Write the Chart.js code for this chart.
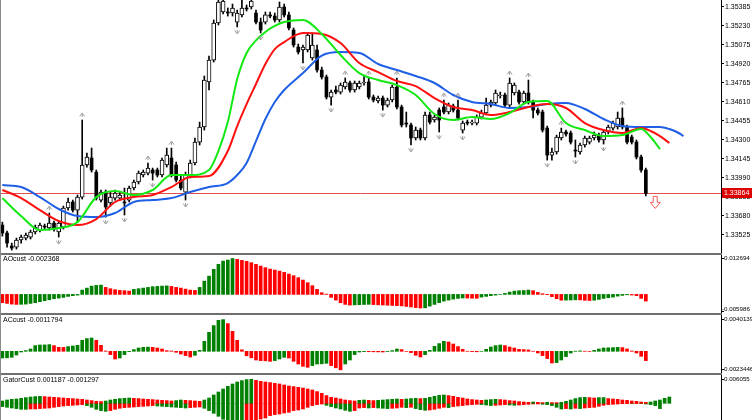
<!DOCTYPE html>
<html>
<head>
<meta charset="utf-8">
<script src="https://cdn.jsdelivr.net/npm/chart.js@4/dist/chart.umd.min.js"></script>
<style>
  html, body { margin: 0; padding: 0; background: #fff; }
  #wrap { position: relative; width: 752px; height: 420px; overflow: hidden; }
  #wrap canvas { position: absolute; left: 0; }
  .sep { position: absolute; left: 0; width: 722px; height: 2px; background: #6f6f6f; }
  .edge { position: absolute; left: 0; top: 0; width: 1px; height: 420px; background: #8a8a8a; }
</style>
</head>
<body>
<div id="wrap">
  <canvas id="main" width="752" height="253" style="top:0"></canvas>
  <div class="sep" style="top:253px"></div>
  <canvas id="ao" width="752" height="58" style="top:255px"></canvas>
  <div class="sep" style="top:313px"></div>
  <canvas id="ac" width="752" height="58" style="top:315px"></canvas>
  <div class="sep" style="top:373px"></div>
  <canvas id="gator" width="752" height="45" style="top:375px"></canvas>
  <div class="edge"></div>
</div>
<script>
// --- candles (bar index 0..137) ---
const opens = [1.33606,1.33541,1.33435,1.33426,1.33484,1.33500,1.33508,1.33549,1.33565,1.33598,
  1.33582,1.33622,1.33549,1.33590,1.33745,1.33794,1.33728,1.33834,1.34096,1.34153,
  1.34038,1.33810,1.33875,1.33786,1.33826,1.33826,1.33794,1.33810,1.33908,1.33957,
  1.34014,1.34030,1.34055,1.34055,1.34014,1.34096,1.34153,1.34096,1.33973,1.33875,
  1.34014,1.34112,1.34283,1.34406,1.34773,1.34952,1.35254,1.35344,1.35344,1.35336,
  1.35262,1.35320,1.35377,1.35385,1.35336,1.35262,1.35262,1.35320,1.35311,1.35279,
  1.35385,1.35320,1.35197,1.35058,1.35034,1.35034,1.34969,1.35034,1.34871,1.34814,
  1.34650,1.34708,1.34691,1.34732,1.34765,1.34708,1.34732,1.34765,1.34773,1.34650,
  1.34618,1.34642,1.34585,1.34626,1.34732,1.34569,1.34438,1.34422,1.34316,1.34381,
  1.34316,1.34504,1.34463,1.34544,1.34569,1.34528,1.34577,1.34544,1.34381,1.34446,
  1.34438,1.34438,1.34487,1.34520,1.34585,1.34602,1.34659,1.34667,1.34585,1.34683,
  1.34691,1.34610,1.34683,1.34610,1.34544,1.34528,1.34397,1.34177,1.34202,1.34316,
  1.34365,1.34357,1.34218,1.34202,1.34259,1.34283,1.34316,1.34340,1.34300,1.34365,
  1.34397,1.34406,1.34479,1.34406,1.34324,1.34283,1.34161,1.34055];
const highs = [1.33630,1.33557,1.33459,1.33500,1.33524,1.33541,1.33565,1.33606,1.33622,1.33614,
  1.33704,1.33639,1.33639,1.33761,1.33826,1.33810,1.33851,1.34463,1.34193,1.34234,
  1.34055,1.33892,1.33892,1.33875,1.33892,1.33875,1.33908,1.33924,1.33973,1.34047,
  1.34055,1.34112,1.34071,1.34071,1.34153,1.34234,1.34234,1.34120,1.34006,1.34038,
  1.34136,1.34316,1.34446,1.34822,1.34985,1.35279,1.35466,1.35475,1.35377,1.35409,
  1.35360,1.35442,1.35401,1.35466,1.35360,1.35295,1.35344,1.35344,1.35336,1.35426,
  1.35409,1.35344,1.35214,1.35083,1.35075,1.35173,1.35173,1.35075,1.34895,1.34830,
  1.34708,1.34740,1.34765,1.34806,1.34781,1.34781,1.34781,1.34822,1.34806,1.34667,
  1.34659,1.34659,1.34642,1.34748,1.34806,1.34585,1.34528,1.34438,1.34406,1.34397,
  1.34528,1.34528,1.34504,1.34561,1.34626,1.34602,1.34593,1.34626,1.34455,1.34463,
  1.34463,1.34504,1.34544,1.34642,1.34626,1.34708,1.34691,1.34683,1.34806,1.34765,
  1.34708,1.34699,1.34789,1.34626,1.34561,1.34544,1.34414,1.34234,1.34340,1.34397,
  1.34381,1.34373,1.34300,1.34275,1.34332,1.34332,1.34365,1.34357,1.34381,1.34422,
  1.34455,1.34528,1.34561,1.34422,1.34340,1.34300,1.34177,1.34071];
const lows = [1.33516,1.33426,1.33402,1.33410,1.33459,1.33484,1.33492,1.33533,1.33549,1.33573,
  1.33565,1.33557,1.33508,1.33573,1.33728,1.33712,1.33630,1.33818,1.34079,1.34038,
  1.33810,1.33794,1.33671,1.33761,1.33810,1.33810,1.33688,1.33794,1.33892,1.33941,
  1.33998,1.34014,1.33973,1.33998,1.33998,1.34079,1.33998,1.33957,1.33892,1.33810,
  1.33990,1.34096,1.34259,1.34381,1.34708,1.34936,1.35238,1.35328,1.35311,1.35311,
  1.35222,1.35303,1.35352,1.35369,1.35246,1.35173,1.35246,1.35295,1.35262,1.35262,
  1.35303,1.35197,1.35058,1.35001,1.34928,1.35018,1.34952,1.34854,1.34797,1.34634,
  1.34585,1.34675,1.34675,1.34716,1.34691,1.34691,1.34716,1.34748,1.34634,1.34610,
  1.34602,1.34544,1.34569,1.34610,1.34553,1.34406,1.34406,1.34259,1.34300,1.34300,
  1.34300,1.34430,1.34446,1.34365,1.34512,1.34512,1.34528,1.34463,1.34357,1.34422,
  1.34422,1.34422,1.34471,1.34504,1.34569,1.34585,1.34642,1.34569,1.34569,1.34667,
  1.34593,1.34593,1.34593,1.34479,1.34504,1.34365,1.34136,1.34136,1.34185,1.34300,
  1.34332,1.34267,1.34161,1.34185,1.34242,1.34267,1.34300,1.34283,1.34267,1.34349,
  1.34381,1.34389,1.34389,1.34267,1.34267,1.34145,1.34038,1.33843];
const closes = [1.33541,1.33459,1.33418,1.33484,1.33508,1.33524,1.33549,1.33590,1.33606,1.33590,
  1.33622,1.33573,1.33622,1.33745,1.33794,1.33728,1.33834,1.34096,1.34161,1.34055,
  1.33826,1.33875,1.33753,1.33834,1.33867,1.33851,1.33786,1.33908,1.33957,1.34030,
  1.34038,1.34071,1.34030,1.34014,1.34136,1.34177,1.34014,1.33973,1.33908,1.34014,
  1.34112,1.34283,1.34406,1.34789,1.34952,1.35254,1.35426,1.35434,1.35336,1.35377,
  1.35336,1.35377,1.35369,1.35434,1.35262,1.35197,1.35320,1.35311,1.35279,1.35385,
  1.35320,1.35214,1.35075,1.35018,1.35058,1.35156,1.35075,1.34871,1.34814,1.34650,
  1.34691,1.34691,1.34748,1.34773,1.34708,1.34765,1.34765,1.34773,1.34650,1.34626,
  1.34642,1.34585,1.34626,1.34732,1.34569,1.34422,1.34430,1.34316,1.34381,1.34316,
  1.34504,1.34446,1.34487,1.34463,1.34528,1.34585,1.34544,1.34479,1.34438,1.34438,
  1.34446,1.34487,1.34520,1.34585,1.34610,1.34683,1.34667,1.34585,1.34765,1.34748,
  1.34610,1.34683,1.34610,1.34544,1.34520,1.34381,1.34177,1.34202,1.34324,1.34365,
  1.34349,1.34283,1.34210,1.34259,1.34316,1.34316,1.34340,1.34300,1.34365,1.34406,
  1.34438,1.34479,1.34406,1.34283,1.34283,1.34161,1.34055,1.33864];

// --- alligator lines, read every few bars ---
const jawIdx = [0,4,8,12,16,20,24,28,32,36,40,44,48,50,52,54,56,58,60,64,68,72,76,80,84,88,92,96,100,104,108,112,116,120,124,128,132,136,140,142,144,145];
const jawVal = [1.33932,1.33916,1.33834,1.33737,1.33679,1.33671,1.33704,1.33794,1.33810,1.33826,
  1.33875,1.33916,1.33949,1.34014,1.34112,1.34291,1.34471,1.34610,1.34708,1.34846,
  1.34989,1.35018,1.35010,1.34920,1.34871,1.34822,1.34765,1.34667,1.34610,1.34593,
  1.34561,1.34569,1.34593,1.34602,1.34553,1.34471,1.34414,1.34406,1.34406,1.34389,1.34357,1.34332];
const teethIdx = [0,4,8,12,16,20,24,28,32,36,40,44,48,50,52,54,56,58,60,64,68,72,76,80,84,88,92,96,100,104,108,112,116,120,124,128,132,136,138,140,142];
const teethVal = [1.33892,1.33826,1.33728,1.33639,1.33606,1.33655,1.33794,1.33834,1.33851,1.33916,
  1.33998,1.34006,1.34210,1.34414,1.34593,1.34757,1.34920,1.35042,1.35099,1.35173,
  1.35165,1.35091,1.34928,1.34854,1.34781,1.34740,1.34642,1.34569,1.34544,1.34504,
  1.34528,1.34569,1.34593,1.34561,1.34438,1.34381,1.34357,1.34397,1.34373,1.34332,1.34275];
const lipsIdx = [0,4,8,12,16,20,24,28,32,36,40,44,46,48,50,52,54,56,58,60,64,68,72,76,80,84,88,92,96,100,104,108,112,116,120,124,128,132,136,138,140];
const lipsVal = [1.33826,1.33679,1.33565,1.33582,1.33630,1.33834,1.33883,1.33851,1.33892,1.34014,
  1.34014,1.34055,1.34210,1.34446,1.34797,1.35010,1.35112,1.35181,1.35230,1.35262,
  1.35279,1.35165,1.34993,1.34846,1.34789,1.34748,1.34667,1.34512,1.34463,1.34487,
  1.34471,1.34520,1.34610,1.34618,1.34438,1.34381,1.34332,1.34340,1.34389,1.34324,1.34226];

const fractalUp = [10,17,31,36,59,73,78,84,94,97,108,112,119,132];
const fractalDown = [2,12,22,26,32,39,50,55,64,70,81,87,93,98,116,122,128];
const signalDown = [139];

const priceTicks = [1.35385,1.35230,1.35075,1.34920,1.34765,1.34610,1.34455,1.34300,1.34145,1.33990,1.33835,1.33680,1.33525];

// --- oscillators ---
const aoValues = [-0.002938,-0.003186,-0.003434,-0.003540,-0.003505,-0.003434,-0.003186,-0.002938,-0.002584,-0.002230,
  -0.001876,-0.001522,-0.001310,-0.001062,-0.000708,-0.000460,-0.000248,0.001522,0.002230,0.002938,
  0.003186,0.003292,0.002478,0.002018,0.001664,0.001416,0.001310,0.001168,0.001770,0.002018,
  0.002230,0.002478,0.002726,0.002832,0.002938,0.003009,0.002832,0.002478,0.002230,0.001876,
  0.001522,0.001416,0.002478,0.004708,0.006478,0.008850,0.010620,0.011788,0.012142,0.012694,
  0.012390,0.012036,0.011682,0.011222,0.010620,0.010018,0.009452,0.008956,0.008602,0.008248,
  0.007788,0.007186,0.006620,0.005912,0.005062,0.004142,0.003080,0.001770,0.000602,0.000106,
  -0.001062,-0.002018,-0.002938,-0.003540,-0.003788,-0.003717,-0.003646,-0.003575,-0.003505,-0.003611,
  -0.003682,-0.003752,-0.003823,-0.003894,-0.003965,-0.004071,-0.004248,-0.004460,-0.004673,-0.004814,
  -0.004744,-0.004142,-0.003540,-0.002938,-0.002372,-0.002018,-0.001664,-0.001416,-0.001274,-0.001310,
  -0.001345,-0.001381,-0.000956,-0.000708,-0.000460,-0.000248,0.000035,0.000354,0.000814,0.001168,
  0.001310,0.001381,0.001522,0.001310,0.000708,0.000248,-0.000106,-0.000814,-0.001522,-0.002053,
  -0.002018,-0.001982,-0.001912,-0.001947,-0.002089,-0.002159,-0.002053,-0.001770,-0.001416,-0.001168,
  -0.000956,-0.000602,-0.000354,-0.000142,-0.000212,-0.000460,-0.001414,-0.002368];
const acValues = [-0.000848,-0.000823,-0.000760,-0.000468,-0.000089,0.000089,0.000291,0.000722,0.000798,0.000810,
  0.000848,0.000722,0.000506,0.000494,0.000595,0.000671,0.000760,0.001393,0.001608,0.001684,
  0.001393,0.000760,0.000038,-0.000418,-0.000975,-0.000848,-0.000418,-0.000038,0.000215,0.000418,
  0.000506,0.000532,0.000506,0.000418,0.000291,0.000089,0.000038,-0.000127,-0.000342,-0.000544,
  -0.000722,-0.000506,0.000127,0.001266,0.002405,0.003254,0.003925,0.0040139,0.003507,0.002532,
  0.001393,0.000190,-0.000570,-0.000823,-0.001101,-0.001177,-0.001203,-0.001266,-0.001177,-0.000975,
  -0.000760,-0.000848,-0.001266,-0.001608,-0.001899,-0.002026,-0.001810,-0.001608,-0.001583,-0.001519,
  -0.001810,-0.002089,-0.0023446,-0.001608,-0.001101,-0.000418,-0.000089,-0.000038,-0.000051,-0.000063,
  -0.000076,-0.000089,-0.000025,0.000089,0.000291,0.000215,-0.000005,-0.000165,-0.000506,-0.000722,
  -0.000418,0.000127,0.000633,0.000975,0.001266,0.001177,0.000924,0.000595,0.000253,0.000010,
  -0.000038,-0.000063,0.000005,0.000253,0.000544,0.000722,0.000798,0.000722,0.000544,0.000418,
  0.000253,0.000215,0.000165,0.000010,-0.000215,-0.000544,-0.000924,-0.001481,-0.001431,-0.001101,
  -0.000671,-0.000215,0.000025,0.000051,0.000013,-0.000013,0.000127,0.000291,0.000418,0.000443,
  0.000468,0.000506,0.000468,0.000291,0.000038,-0.000215,-0.000633,-0.0011794];
const gatorUp = [0.000580,0.000832,0.001008,0.001084,0.001260,0.001436,0.001588,0.001688,0.001764,0.001688,
  0.001588,0.001512,0.001436,0.001336,0.001260,0.001184,0.001084,0.001008,0.000832,0.000680,
  0.000504,0.000428,0.000580,0.000832,0.001008,0.001184,0.001260,0.001336,0.001260,0.001184,
  0.001084,0.001008,0.000932,0.000832,0.000756,0.000680,0.000580,0.000680,0.000832,0.000756,
  0.000680,0.000580,0.000504,0.000832,0.001336,0.002092,0.002848,0.003604,0.004284,0.004864,
  0.005368,0.005720,0.005972,0.006055,0.005796,0.005544,0.005368,0.005216,0.005040,0.004864,
  0.004612,0.004360,0.004208,0.004032,0.003856,0.003604,0.003352,0.002948,0.002520,0.001940,
  0.001512,0.001336,0.001084,0.000832,0.000680,0.000580,0.000756,0.000832,0.000756,0.000680,
  0.000756,0.000832,0.000932,0.001008,0.001084,0.001008,0.001084,0.001184,0.001260,0.001184,
  0.001260,0.001512,0.001764,0.002016,0.002092,0.001940,0.001764,0.001512,0.001336,0.001084,
  0.000932,0.000832,0.000756,0.000832,0.000932,0.001008,0.000932,0.000832,0.000680,0.000580,
  0.000428,0.000328,0.000252,0.000328,0.000252,0.000176,0.000252,0.000176,0.000170,0.000252,
  0.000504,0.000832,0.001184,0.001436,0.001512,0.001436,0.001336,0.001436,0.001440,0.001184,
  0.001084,0.001008,0.000832,0.000756,0.000580,0.000504,0.000328,0.000252,0.000328,0.000580,
  0.000832,0.001260,0.001588];
const gatorDown = [-0.000832,-0.001008,-0.001184,-0.001336,-0.001512,-0.001520,-0.001436,-0.001430,-0.001336,-0.001260,
  -0.001184,-0.001008,-0.000832,-0.000680,-0.000580,-0.000504,-0.000428,-0.000328,-0.000580,-0.001008,
  -0.001512,-0.001840,-0.002016,-0.001840,-0.001512,-0.001260,-0.001084,-0.001008,-0.000932,-0.000832,
  -0.000756,-0.000680,-0.000580,-0.000680,-0.000756,-0.000832,-0.000932,-0.001008,-0.001084,-0.001184,
  -0.001084,-0.001008,-0.000932,-0.001260,-0.001840,-0.002520,-0.003276,-0.004032,-0.004788,-0.005292,
  -0.005544,-0.005620,-0.005292,-0.004914,-0.004410,-0.003956,-0.003704,-0.003100,-0.002848,-0.002696,
  -0.002444,-0.002268,-0.001840,-0.001688,-0.001436,-0.001008,-0.000580,-0.000328,-0.000176,-0.000504,
  -0.000832,-0.001184,-0.001436,-0.001764,-0.002016,-0.001840,-0.001184,-0.001084,-0.001184,-0.001084,
  -0.001184,-0.001260,-0.001336,-0.001260,-0.001184,-0.001008,-0.001084,-0.001008,-0.001336,-0.001588,
  -0.001764,-0.001688,-0.001512,-0.001260,-0.001008,-0.001084,-0.000832,-0.000680,-0.000580,-0.000428,
  -0.000328,-0.000252,-0.000328,-0.000428,-0.000580,-0.000504,-0.000428,-0.000328,-0.000428,-0.000504,
  -0.000428,-0.000328,-0.000252,-0.000176,-0.000170,-0.000252,-0.000328,-0.000580,-0.001008,-0.001436,
  -0.001336,-0.001436,-0.001260,-0.001336,-0.001184,-0.001084,-0.001008,-0.000756,-0.000504,-0.000328,
  -0.000252,-0.000176,-0.000076,-0.000050,-0.000076,-0.000050,-0.000076,-0.000176,-0.000328,-0.000580,
  -0.001336];

const aoTicks = [0.012694, -0.005986];
const acTicks = [0.0040139, -0.0023446];
const gatorTicks = [0.006055];
const aoTitle = 'AOcust -0.002368';
const acTitle = 'ACcust -0.0011794';
const gatorTitle = 'GatorCust 0.001187 -0.001297';

const UP = '#008000', DOWN = '#ff0000';
const FONT = '"Liberation Sans", Arial, sans-serif';

function trendColors(vals, useAbs) {
  return vals.map((v, i) => {
    const j = i === 0 ? 1 : i;
    const a = useAbs ? Math.abs(vals[j]) : vals[j];
    const b = useAbs ? Math.abs(vals[j - 1]) : vals[j - 1];
    return a > b ? UP : DOWN;
  });
}

function xAxis() {
  return { type: 'linear', min: -0.5, max: 153, offset: false, display: false };
}

function pts(xs, ys) { return xs.map((x, k) => ({ x, y: ys[k] })); }

// --- main price chart ---
const idx = opens.map((_, i) => i);
const bull = idx.filter(i => closes[i] >= opens[i]);
const bear = idx.filter(i => closes[i] < opens[i]);
const lastClose = closes[closes.length - 1];

const priceMarks = {
  id: 'priceMarks',
  beforeDatasetsDraw(chart) {
    const { ctx, chartArea, scales: { y } } = chart;
    const py = Math.round(y.getPixelForValue(lastClose)) + 0.5;
    ctx.save();
    ctx.strokeStyle = '#e05050';
    ctx.lineWidth = 1;
    ctx.beginPath();
    ctx.moveTo(chartArea.left, py);
    ctx.lineTo(chartArea.right, py);
    ctx.stroke();
    ctx.restore();
  },
  afterDatasetsDraw(chart) {
    const { ctx, chartArea, scales: { x, y } } = chart;
    ctx.save();
    ctx.beginPath();
    ctx.rect(chartArea.left, chartArea.top, chartArea.width, chartArea.height);
    ctx.clip();
    ctx.strokeStyle = '#9c9c9c';
    ctx.lineWidth = 1;
    fractalUp.forEach(i => {
      const px = x.getPixelForValue(i), py = y.getPixelForValue(highs[i]) - 5;
      ctx.beginPath();
      ctx.moveTo(px - 2.5, py + 1.5); ctx.lineTo(px, py - 2); ctx.lineTo(px + 2.5, py + 1.5);
      ctx.moveTo(px, py - 1); ctx.lineTo(px, py + 2);
      ctx.stroke();
    });
    fractalDown.forEach(i => {
      const px = x.getPixelForValue(i), py = y.getPixelForValue(lows[i]) + 5;
      ctx.beginPath();
      ctx.moveTo(px - 2.5, py - 1.5); ctx.lineTo(px, py + 2); ctx.lineTo(px + 2.5, py - 1.5);
      ctx.moveTo(px, py + 1); ctx.lineTo(px, py - 2);
      ctx.stroke();
    });
    // sell arrow right of the last bar
    ctx.strokeStyle = '#ff5a5a';
    signalDown.forEach(i => {
      const px = x.getPixelForValue(i), top = y.getPixelForValue(lastClose) + 3;
      ctx.beginPath();
      ctx.moveTo(px - 2, top); ctx.lineTo(px + 2, top); ctx.lineTo(px + 2, top + 6);
      ctx.lineTo(px + 5, top + 6); ctx.lineTo(px, top + 12); ctx.lineTo(px - 5, top + 6);
      ctx.lineTo(px - 2, top + 6); ctx.closePath();
      ctx.stroke();
    });
    ctx.restore();
  },
  afterDraw(chart) {
    const { ctx, chartArea, scales: { y } } = chart;
    const py = Math.round(y.getPixelForValue(lastClose));
    ctx.save();
    ctx.fillStyle = '#dc0000';
    ctx.fillRect(chartArea.right + 1, py - 5, 31, 10);
    ctx.fillStyle = '#fff';
    ctx.font = '7px ' + FONT;
    ctx.textBaseline = 'middle';
    ctx.fillText(lastClose.toFixed(5), chartArea.right + 3, py + 0.5);
    ctx.restore();
  }
};

new Chart(document.getElementById('main'), {
  type: 'bar',
  data: {
    datasets: [
      { type: 'line', label: 'Lips', data: pts(lipsIdx, lipsVal), borderColor: '#12e812', borderWidth: 2,
        pointRadius: 0, cubicInterpolationMode: 'monotone', order: 1 },
      { type: 'line', label: 'Teeth', data: pts(teethIdx, teethVal), borderColor: '#ff1010', borderWidth: 2,
        pointRadius: 0, cubicInterpolationMode: 'monotone', order: 2 },
      { type: 'line', label: 'Jaw', data: pts(jawIdx, jawVal), borderColor: '#1f5fe6', borderWidth: 2,
        pointRadius: 0, cubicInterpolationMode: 'monotone', order: 3 },
      { label: 'Bull', data: bull.map(i => ({ x: i, y: [opens[i], closes[i]] })), backgroundColor: '#fff',
        borderColor: '#000', borderWidth: 1, borderSkipped: false, barThickness: 4, grouped: false, order: 4 },
      { label: 'Bear', data: bear.map(i => ({ x: i, y: [opens[i], closes[i]] })), backgroundColor: '#000',
        borderWidth: 0, barThickness: 3, grouped: false, order: 4 },
      { label: 'Wick', data: idx.map(i => ({ x: i, y: [lows[i], highs[i]] })), backgroundColor: '#000',
        borderWidth: 0, barThickness: 1, grouped: false, order: 5 }
    ]
  },
  options: {
    responsive: false,
    animation: false,
    events: [],
    layout: { padding: 0 },
    plugins: { legend: { display: false }, tooltip: { enabled: false } },
    scales: {
      x: xAxis(),
      y: {
        position: 'right', min: 1.33378, max: 1.35442,
        afterBuildTicks: s => { s.ticks = priceTicks.map(v => ({ value: v })); },
        afterFit: s => { s.width = 31; s.paddingTop = 0; s.paddingBottom = 0; },
        ticks: { autoSkip: false, padding: 1, color: '#000', font: { size: 7, family: FONT },
          callback: v => v.toFixed(5) },
        grid: { drawOnChartArea: false, drawTicks: true, tickLength: 3, color: '#000' },
        border: { display: true, color: '#000' }
      }
    }
  },
  plugins: [priceMarks]
});

// --- sub windows ---
const sideLabels = {
  id: 'sideLabels',
  afterDraw(chart, args, opts) {
    const { ctx, chartArea, scales: { y } } = chart;
    ctx.save();
    ctx.fillStyle = '#000';
    ctx.textBaseline = 'middle';
    ctx.font = '6.2px ' + FONT;
    opts.values.forEach(v => {
      let py = y.getPixelForValue(v);
      py = Math.min(Math.max(py, chartArea.top + 3), chartArea.bottom - 4);
      ctx.fillText(String(v), chartArea.right + (v < 0 ? 1 : 3), py);
    });
    ctx.font = '7px ' + FONT;
    ctx.fillText(opts.title, 3, opts.titleY);
    ctx.restore();
  }
};

function subChart(id, datasets, min, max, ticks, title, titleY) {
  return new Chart(document.getElementById(id), {
    type: 'bar',
    data: { datasets },
    options: {
      responsive: false,
      animation: false,
      events: [],
      layout: { padding: 0 },
      plugins: { legend: { display: false }, tooltip: { enabled: false },
        sideLabels: { values: ticks, title, titleY } },
      scales: {
        x: xAxis(),
        y: {
          position: 'right', min, max,
          afterBuildTicks: s => { s.ticks = ticks.map(v => ({ value: v })); },
          afterFit: s => { s.width = 31; s.paddingTop = 0; s.paddingBottom = 0; },
          ticks: { display: false },
          grid: { drawOnChartArea: false, drawTicks: true, tickLength: 3, color: '#000' },
          border: { display: true, color: '#000' }
        }
      }
    },
    plugins: [sideLabels]
  });
}

function histo(vals, colors) {
  return { data: vals.map((v, i) => ({ x: i, y: v })), backgroundColor: colors,
    borderWidth: 0, barThickness: 3, grouped: false };
}

subChart('ao', [histo(aoValues, trendColors(aoValues, false))], -0.006577, 0.013932, aoTicks, aoTitle, 4);
subChart('ac', [histo(acValues, trendColors(acValues, false))], -0.002747, 0.004596, acTicks, acTitle, 5);
subChart('gator', [
  histo(gatorUp, trendColors(gatorUp, true)),
  histo(gatorDown, trendColors(gatorDown, true))
], -0.004208, 0.007132, gatorTicks, gatorTitle, 5);
</script>
</body>
</html>
